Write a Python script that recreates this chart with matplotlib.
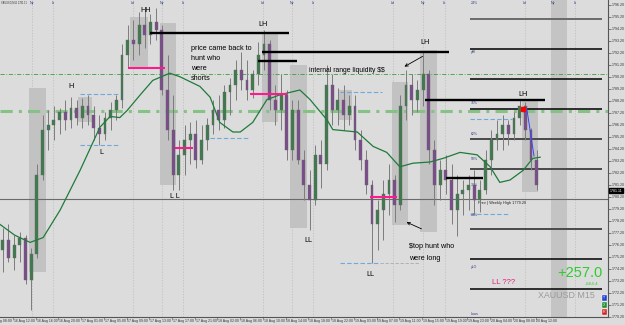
import matplotlib.pyplot as plt
from matplotlib.patches import Rectangle
from matplotlib.transforms import blended_transform_factory
import numpy as np

# XAUUSD, hourly OHLC (16-20 Aug)
opens = [1775.8, 1776.6, 1775.1, 1776.2, 1776.8, 1773.3, 1775.4, 1782.0, 1785.8, 1786.2,
         1786.6, 1787.3, 1786.6, 1787.6, 1786.8, 1787.8, 1787.0, 1785.9, 1785.4, 1786.8,
         1787.4, 1788.3, 1792.0, 1793.3, 1792.9, 1794.5, 1793.7, 1794.8, 1794.1, 1789.1,
         1785.8, 1782.0, 1783.7, 1784.9, 1785.4, 1783.3, 1784.9, 1786.2, 1787.4, 1786.6,
         1788.9, 1789.5, 1790.8, 1789.9, 1789.1, 1790.4, 1792.0, 1792.9, 1788.3, 1787.4,
         1788.7, 1784.1, 1787.4, 1783.3, 1781.2, 1779.9, 1783.7, 1782.9, 1789.5, 1787.4,
         1788.3, 1787.0, 1787.8, 1784.9, 1783.3, 1781.2, 1777.9, 1779.1, 1780.4, 1781.6,
         1779.5, 1787.8, 1789.5, 1788.3, 1789.1, 1790.4, 1784.1, 1781.2, 1782.4, 1781.6,
         1779.1, 1780.4, 1780.8, 1781.2, 1779.9, 1780.8, 1783.3, 1784.9, 1785.4, 1786.2,
         1785.4, 1786.8, 1787.8, 1785.8, 1783.3]
highs = [1777.6, 1777.9, 1777.0, 1777.3, 1777.0, 1775.9, 1782.9, 1787.0, 1787.4, 1787.8,
         1787.6, 1788.3, 1788.5, 1788.3, 1788.4, 1788.7, 1787.8, 1787.0, 1787.3, 1788.1,
         1788.7, 1792.9, 1794.5, 1794.9, 1795.6, 1795.8, 1795.4, 1795.9, 1794.5, 1792.0,
         1788.7, 1784.9, 1786.2, 1786.4, 1786.6, 1786.2, 1786.8, 1788.3, 1788.7, 1789.5,
         1790.1, 1791.6, 1792.3, 1791.6, 1790.8, 1793.1, 1794.1, 1793.3, 1789.5, 1790.4,
         1789.1, 1788.3, 1788.3, 1784.1, 1782.4, 1784.5, 1784.9, 1791.2, 1790.4, 1789.3,
         1789.5, 1788.7, 1788.7, 1785.8, 1784.1, 1781.6, 1779.9, 1781.6, 1782.9, 1782.0,
         1788.7, 1790.8, 1790.4, 1789.9, 1792.3, 1790.8, 1784.9, 1783.3, 1783.7, 1782.9,
         1782.0, 1781.6, 1782.0, 1782.4, 1781.6, 1784.1, 1785.8, 1786.6, 1787.0, 1786.6,
         1787.3, 1788.3, 1788.1, 1785.9, 1784.1]
lows = [1773.9, 1774.8, 1774.1, 1774.8, 1772.9, 1770.8, 1775.1, 1781.6, 1784.1, 1784.9,
        1785.4, 1785.8, 1785.9, 1786.2, 1785.9, 1786.2, 1784.9, 1784.5, 1784.9, 1785.8,
        1786.6, 1787.6, 1790.9, 1791.6, 1792.0, 1792.6, 1792.9, 1793.3, 1788.7, 1784.9,
        1780.8, 1780.8, 1782.0, 1782.9, 1782.6, 1782.9, 1784.1, 1785.4, 1785.8, 1785.9,
        1787.0, 1788.3, 1789.1, 1788.3, 1788.4, 1789.5, 1790.8, 1787.4, 1786.2, 1785.8,
        1783.3, 1783.3, 1782.9, 1779.9, 1777.4, 1779.5, 1780.9, 1782.4, 1786.2, 1786.2,
        1785.8, 1786.2, 1784.1, 1782.4, 1780.4, 1774.7, 1775.8, 1776.6, 1778.7, 1778.1,
        1779.1, 1786.6, 1787.0, 1787.3, 1787.8, 1782.9, 1779.5, 1779.9, 1780.4, 1777.9,
        1776.9, 1778.7, 1779.1, 1778.7, 1778.9, 1780.4, 1782.0, 1784.1, 1784.1, 1784.5,
        1784.9, 1786.2, 1784.9, 1782.4, 1780.8]
closes = [1776.6, 1775.1, 1776.2, 1776.8, 1773.3, 1775.4, 1782.0, 1785.8, 1786.2, 1786.6,
          1787.3, 1786.6, 1787.6, 1786.8, 1787.8, 1787.0, 1785.9, 1785.4, 1786.8, 1787.4,
          1788.3, 1792.0, 1793.3, 1792.9, 1794.5, 1793.7, 1794.8, 1794.1, 1789.1, 1785.8,
          1782.0, 1783.7, 1784.9, 1785.4, 1783.3, 1784.9, 1786.2, 1787.4, 1786.6, 1788.9,
          1789.5, 1790.8, 1789.9, 1789.1, 1790.4, 1792.0, 1792.9, 1788.3, 1787.4, 1788.7,
          1784.1, 1787.4, 1783.3, 1781.2, 1779.9, 1783.7, 1782.9, 1789.5, 1787.4, 1788.3,
          1787.0, 1787.8, 1784.9, 1783.3, 1781.2, 1777.9, 1779.1, 1780.4, 1781.6, 1779.5,
          1787.8, 1789.5, 1788.3, 1789.1, 1790.4, 1784.1, 1781.2, 1782.4, 1781.6, 1779.1,
          1780.4, 1780.8, 1781.2, 1779.9, 1780.8, 1783.3, 1784.9, 1785.4, 1786.2, 1785.4,
          1786.8, 1787.8, 1785.8, 1783.3, 1781.2]

# moving average as drawn (bar position, price)
ma_x = [-0.5, 2.1, 4.8, 7.1, 10.1, 13.6, 17.1, 18.9, 20.6, 21.9, 24.2, 26.4, 29.4, 31.2,
        34.7, 36.5, 38.2, 40.5, 41.8, 44.0, 46.5, 48.8, 52.3, 54.1, 57.1, 58.1, 62.4,
        65.2, 67.6, 69.9, 72.2, 75.2, 77.5, 80.5, 83.5, 85.8, 87.5, 89.3, 91.6, 93.3, 94.6]
ma_y = [1777.9, 1777.0, 1776.4, 1776.8, 1779.1, 1782.4, 1786.0, 1786.9, 1786.8, 1787.4,
        1788.7, 1789.9, 1790.5, 1790.2, 1789.4, 1788.5, 1786.4, 1785.6, 1785.6, 1786.4,
        1788.3, 1788.7, 1789.1, 1788.3, 1786.6, 1785.8, 1785.6, 1784.4, 1783.9, 1782.7,
        1783.0, 1783.1, 1783.4, 1783.9, 1783.7, 1782.7, 1781.4, 1781.6, 1782.4, 1783.4, 1783.5]

time_labels = ["16 Aug 08:00", "16 Aug 12:00", "16 Aug 16:00", "16 Aug 20:00", "17 Aug 01:00",
               "17 Aug 05:00", "17 Aug 09:00", "17 Aug 13:00", "17 Aug 17:00", "17 Aug 21:00",
               "18 Aug 02:00", "18 Aug 06:00", "18 Aug 10:00", "18 Aug 14:00", "18 Aug 18:00",
               "18 Aug 22:00", "19 Aug 03:00", "19 Aug 07:00", "19 Aug 11:00", "19 Aug 15:00",
               "19 Aug 19:00", "19 Aug 23:00", "20 Aug 04:00", "20 Aug 08:00", "20 Aug 12:00"]

# fib grid on the right and the weekly level
fib_levels = [1795.0, 1792.5, 1790.0, 1787.5, 1785.0, 1782.5, 1777.5, 1775.0, 1772.5]
fib_colors = ['#6a6a6a', 'k', 'k', 'k', '#4a4a4a', '#4a4a4a', '#4a4a4a', 'k', 'k']
fib_texts = ["24%", "yHI", "76%", "62%", "50%", "38%", "24%", "yLO", "Lows"]
fib_text_y = [1796.35, 1792.25, 1788.05, 1785.45, 1783.35, 1781.2, 1778.7, 1774.35, 1770.4]
weekly_high = 1780.0
green_thin = 1790.4
green_thick = 1787.35

black_levels = [1793.85, 1792.27, 1791.5, 1788.27, 1781.77]
black_spans = [(25.9, 50.4), (45.6, 78.6), (44.9, 51.8), (74.3, 95.5), (78.0, 84.5)]
pink_levels = [1790.93, 1784.27, 1788.77, 1780.18]
pink_spans = [(22.0, 28.6), (30.3, 33.5), (43.5, 50.0), (64.6, 69.4)]
blue_levels = [1788.77, 1784.52, 1785.1, 1788.93, 1774.68, 1786.68, 1778.77]
blue_spans = [(13.6, 20.3), (13.6, 20.3), (36.5, 43.5), (59.4, 66.8), (59.4, 66.4),
              (82.3, 89.6), (82.3, 89.3)]

# session range boxes: (bar start, bar end, high, low)
boxes = [(4.6, 7.6, 1789.3, 1773.9), (13.2, 15.7, 1788.5, 1786.4), (22.4, 25.6, 1795.2, 1791.0),
         (27.7, 30.5, 1794.7, 1781.2), (45.6, 48.5, 1793.85, 1786.4), (50.6, 53.6, 1791.2, 1777.6),
         (59.0, 61.5, 1789.1, 1786.6), (68.5, 71.3, 1789.8, 1777.85), (73.5, 76.4, 1792.4, 1777.3),
         (91.4, 94.2, 1788.27, 1780.6)]

sessions_x = [5.1, 8.8, 22.9, 28.0, 31.7, 45.8, 50.9, 54.6, 68.7, 74.0, 77.8, 91.9, 96.9, 100.7]
sessions = ["Ny", "Lt", "Ld", "Ny", "Lt", "Ld", "Ny", "Lt", "Ld", "Ny", "Lt", "Ld", "Ny", "Lt"]

PX = 5.68  # screen pixels per hourly bar


def bx(px):
    return (px - 2.8) / PX


def py(ypx):
    return 1796.6 - ypx / 12.0


bg = '#dcdcdc'
plt.rcParams['font.family'] = ['Liberation Sans', 'DejaVu Sans']
fig = plt.figure(figsize=(6.25, 3.25), dpi=100, facecolor=bg)
ax = fig.add_axes([0, 8 / 325, 608 / 625, 317 / 325])
ax.set_facecolor(bg)
ax.set_xlim(bx(0), bx(608))
ax.set_ylim(py(317), py(0))
for s in ['left', 'top']:
    ax.spines[s].set_visible(False)
for s in ['right', 'bottom']:
    ax.spines[s].set_color('#555555')
    ax.spines[s].set_linewidth(0.8)

# session separators
for sx, name in zip(sessions_x, sessions):
    ax.axvline(sx, color='#bcbcbc', lw=0.5, ls=(0, (2, 2)), zorder=0)
    ax.text(sx, py(3), name, fontsize=2.6, color='#334488', ha='center', va='center')

# future session band + range boxes
ax.axvspan(bx(551), bx(567), color='#c4c4c4', zorder=0.5, lw=0)
for x0, x1, top, bot in boxes:
    ax.add_patch(Rectangle((x0, bot), x1 - x0, top - bot, color='#c2c2c2', lw=0, zorder=0.6))

# horizontal levels
ax.axhline(green_thin, color='#3a9d3a', lw=0.6, ls=(0, (5, 2, 1, 2)), zorder=1)
ax.axhline(green_thick, color='#86c286', lw=2.2, ls=(0, (4, 2, 1, 2)), zorder=1)
ax.axhline(weekly_high, color='#6a6a6a', lw=0.8, zorder=1)
for lvl, c in zip(fib_levels, fib_colors):
    ax.hlines(lvl, bx(470), bx(602), color=c, lw=1.1 if c == 'k' else 1.4, zorder=3)
for t, ty in zip(fib_texts, fib_text_y):
    ax.text(bx(471), ty, t, fontsize=2.5, color='#334488', ha='left', va='center')
ax.text(bx(478), py(203), "Prev | Weekly High 1779.20", fontsize=2.8, color='#222222',
        ha='left', va='center')

for lvl, (x0, x1) in zip(blue_levels, blue_spans):
    ax.hlines(lvl, x0, x1, color='#6fa8dc', lw=0.8, ls=(0, (4, 2)), zorder=2)
ax.hlines(blue_levels[4], blue_spans[4][1], bx(420), color='#aaaaaa', lw=0.6, ls=(0, (4, 2)))

# candles
idx = np.arange(len(closes))
o = np.array(opens)
c = np.array(closes)
ax.vlines(idx, lows, highs, color='#7c7c7c', lw=0.7, zorder=4)
up = c >= o
ax.bar(idx[up], (c - o)[up], bottom=o[up], width=0.5, color='#3f7a4c', edgecolor='#6a6a6a',
       lw=0.3, zorder=5)
ax.bar(idx[~up], (c - o)[~up], bottom=o[~up], width=0.5, color='#7a4c8c', edgecolor='#6a6a6a',
       lw=0.3, zorder=5)

# moving average
ax.plot(ma_x, ma_y, color='#1e7b3a', lw=0.9, zorder=6)

# annotation lines
for lvl, (x0, x1) in zip(black_levels, black_spans):
    ax.hlines(lvl, x0, x1, color='black', lw=1.7, zorder=7)
for lvl, (x0, x1) in zip(pink_levels, pink_spans):
    ax.hlines(lvl, x0, x1, color='#ff1a8c', lw=1.5, zorder=7)

ax.add_patch(Rectangle((bx(521), py(111)), bx(525) - bx(521), 0.3, color='red', zorder=8))
ax.plot([bx(527), bx(534)], [py(110), py(156)], color='#3344ff', lw=0.7, zorder=8)

# labels
tf = 5.2
for txt, x, y in [("HH", 146, 11), ("H", 71, 87), ("L", 101, 153), ("L L", 175, 197),
                  ("LH", 263, 25), ("LH", 425, 43), ("LL", 308, 240), ("LL", 370, 274),
                  ("LH", 523, 94)]:
    ax.text(bx(x), py(y), txt, fontsize=tf, ha='center', va='center', color='black', zorder=9)

for i, line in enumerate(["price came back to", "hunt who", "were", "shorts"]):
    ax.text(bx(191), py(48 + 10 * i), line, fontsize=tf, ha='left', va='center', zorder=9)
ax.text(bx(309), py(71), r"internal range liquidity \$\$", fontsize=4.9, ha='left',
        va='center', zorder=9)
ax.text(bx(409), py(247), r"\$top hunt who", fontsize=tf, ha='left', va='center', zorder=9)
ax.text(bx(409), py(258), "were long", fontsize=tf, ha='left', va='center', zorder=9)
ax.annotate('', xy=(bx(402), py(68)), xytext=(bx(425), py(55)),
            arrowprops=dict(arrowstyle='->', lw=0.6, color='black', mutation_scale=5))
ax.annotate('', xy=(bx(404), py(221)), xytext=(bx(424), py(230)),
            arrowprops=dict(arrowstyle='->', lw=0.6, color='black', mutation_scale=5))

ax.text(bx(492), py(282), "LL ???", fontsize=5.5, color='#e0207a', ha='left', va='center')
ax.text(bx(602), py(273), "+257.0", fontsize=10.5, color='#2ecc2e', ha='right', va='center')
ax.text(bx(598), py(284), "+564.4", fontsize=3.2, color='#2ecc2e', ha='right', va='center')
ax.text(bx(595), py(295), "XAUUSD M15", fontsize=6.4, color='#9a9a9a', ha='right', va='center')
for yy, col, ch in [(298, '#1f3fd0', 'T'), (305, '#1c8c2c', 'X'), (312, '#d01f1f', 'R')]:
    ax.text(bx(604.5), py(yy), ch, fontsize=2.6, color='white', ha='center', va='center',
            bbox=dict(boxstyle='square,pad=0.4', fc=col, ec='white', lw=0.3), zorder=9)

ax.text(bx(1), py(3), "XAUUSD,M15 1781.11", fontsize=1.8,
        color='#333333', ha='left', va='center')

# price axis
ax.yaxis.tick_right()
ax.set_yticks(np.arange(1770.2, 1796.3, 1.0))
ax.set_yticklabels([f"{v:.2f}" for v in np.arange(1770.2, 1796.3, 1.0)])
ax.tick_params(axis='y', labelsize=2.6, length=2, pad=1, colors='#333333', width=0.4)
tr = blended_transform_factory(ax.transAxes, ax.transData)
ax.text(1.003, py(190.5), "1781.11", transform=tr, fontsize=2.6, color='white',
        ha='left', va='center', bbox=dict(boxstyle='square,pad=0.25', fc='black', ec='black'),
        clip_on=False, zorder=10)

# time axis
tick_pos = [bx(13) + 4 * (k - 1) for k in range(len(time_labels))]
ax.set_xticks([t for t in tick_pos if t > bx(0)])
ax.set_xticklabels([])
ax.tick_params(axis='x', length=2, width=0.4, colors='#555555')
trx = blended_transform_factory(ax.transData, ax.transAxes)
for t, lab in zip(tick_pos, time_labels):
    ax.text(t + 0.15, -0.006, lab, transform=trx, fontsize=2.5, color='#333333',
            ha='left', va='top', clip_on=False)

fig.savefig('out.png', dpi=100, facecolor=bg)
